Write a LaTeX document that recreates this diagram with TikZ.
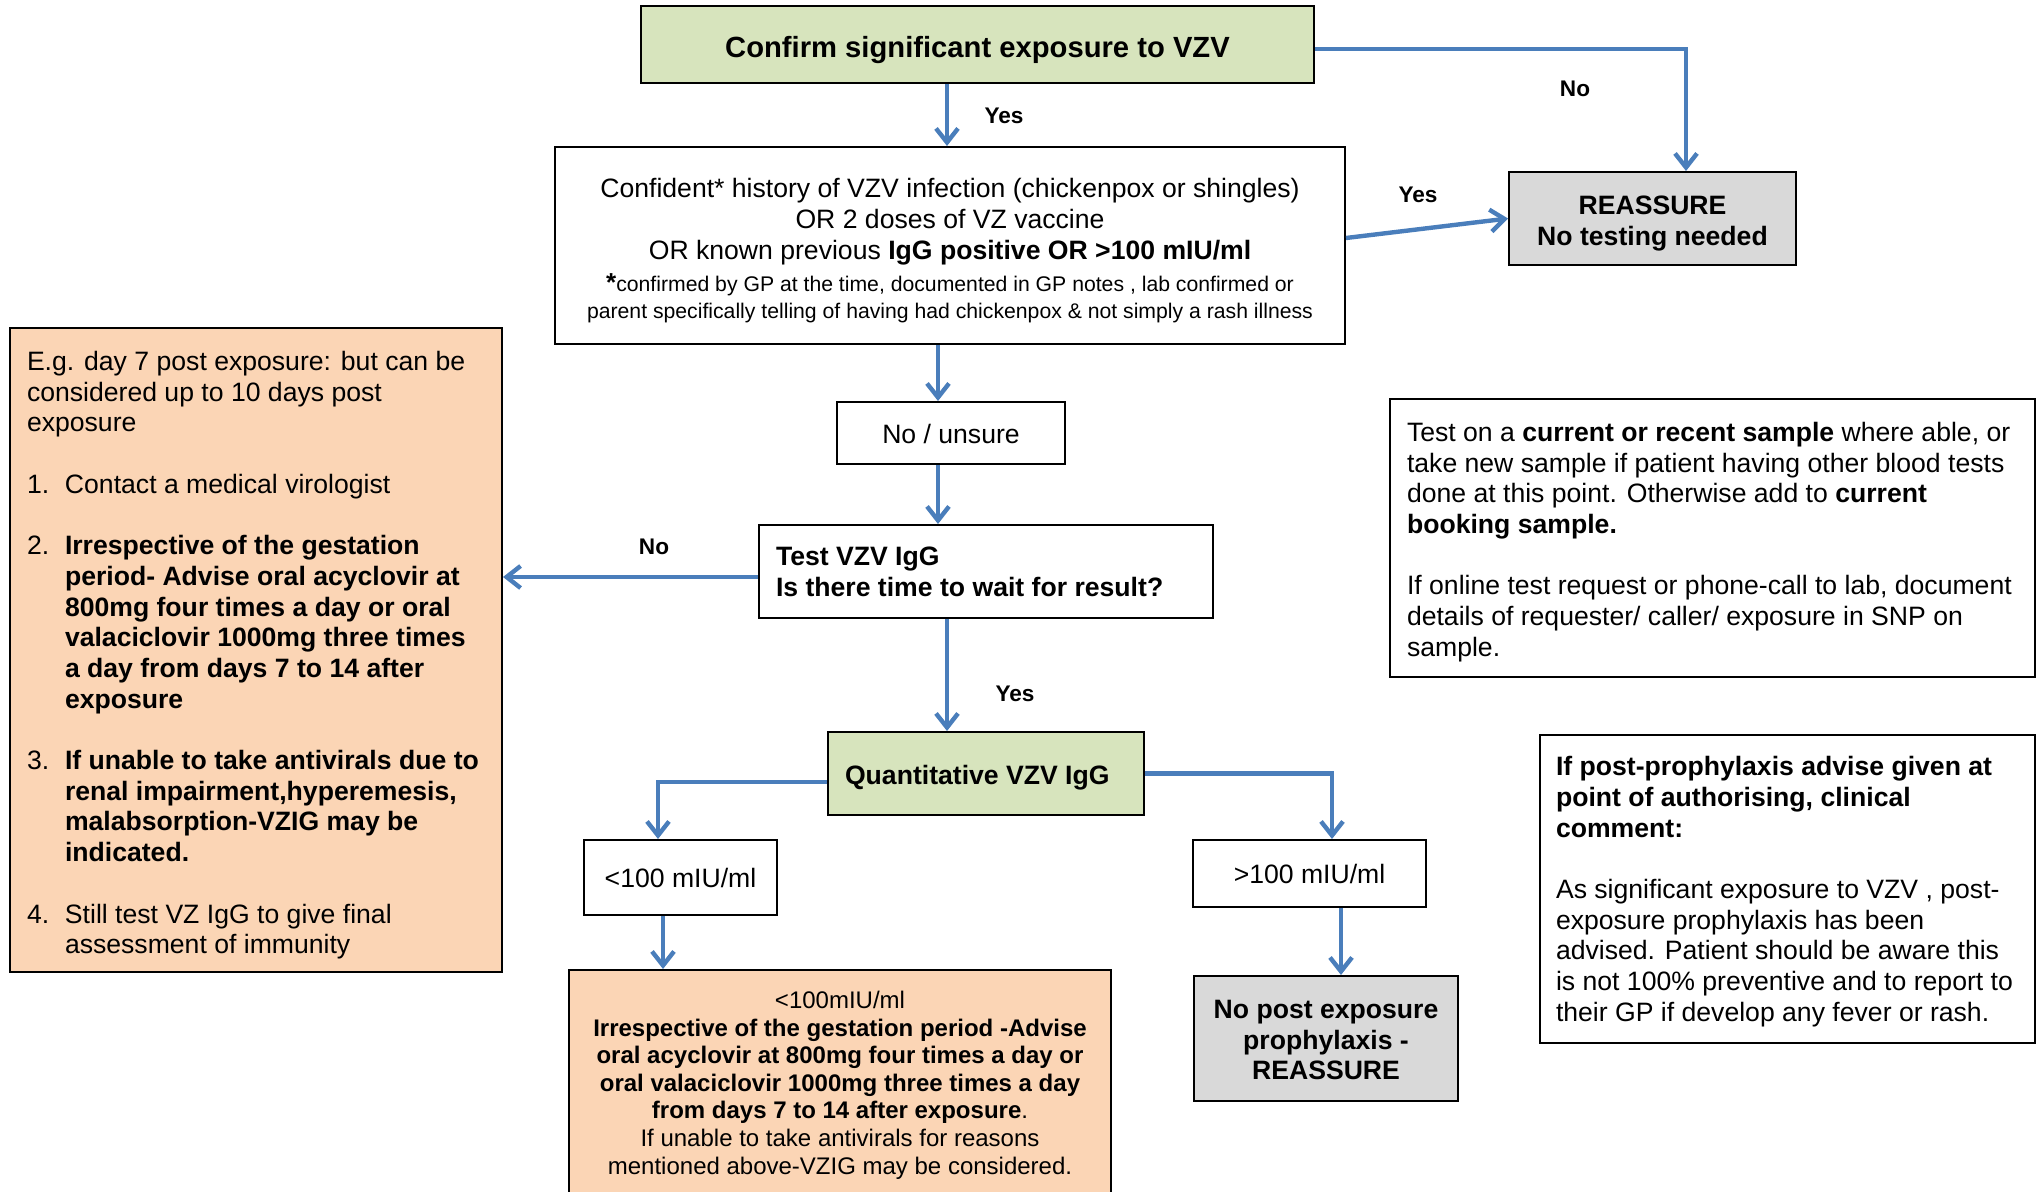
\documentclass[tikz,border=0pt]{standalone}
\usepackage{fontspec}
\setmainfont{Liberation Sans}
\usetikzlibrary{arrows.meta,calc}
\definecolor{boxgreen}{HTML}{D7E4BD}
\definecolor{boxorange}{HTML}{FBD5B5}
\definecolor{boxgray}{HTML}{D9D9D9}
\definecolor{conn}{HTML}{4A7EBB}
\newcommand\mainfs{\fontsize{13.3}{15.35}\selectfont}
\newcommand\itemlab[1]{\makebox[19pt][l]{#1}}
\newcommand\cont{\hspace*{19pt}}
\newcommand\dn[1]{\rule{0pt}{#1}}
\begin{document}
\begin{tikzpicture}[x=0.5pt,y=-0.5pt,
  box/.style={draw=black, line width=1pt, inner sep=0pt, font=\mainfs, align=center},
  arr/.style={draw=conn, line width=2.2pt, -{Straight Barb[length=7pt,width=11pt]}},
  lab/.style={font=\fontsize{11.3}{13}\selectfont\bfseries, inner sep=0pt},
]
\useasboundingbox (0,0) rectangle (2038,1192);

% ---------- nodes ----------
\node[box, fill=boxgreen, line width=1.3pt, minimum width=336.5pt, minimum height=38.5pt,
      font=\fontsize{14.6}{16}\selectfont\bfseries] (top) at (977.5,44.5)
  {\dn{15.6pt}Confirm significant exposure to VZV};

\node[box, minimum width=395pt, minimum height=98.5pt] (hist) at (950,245.5)
  {\dn{14.9pt}Confident* history of VZV infection (chickenpox or shingles)\\
   OR 2 doses of VZ vaccine\\
   OR known previous \textbf{IgG positive OR >100 mIU/ml}\\[0.8pt]
   {\fontsize{10.6}{13}\selectfont\textbf{\fontsize{13}{13}\selectfont *}confirmed by GP at the time, documented in GP notes , lab confirmed or}\\[-1.9pt]
   {\fontsize{10.6}{13}\selectfont parent specifically telling of having had chickenpox \& not simply a rash illness}};

\node[box, fill=boxgray, minimum width=143.5pt, minimum height=46.5pt,
      font=\fontsize{13.3}{15.5}\selectfont\bfseries] (reassure) at (1652.5,218.5)
  {\dn{14.7pt}REASSURE\\No testing needed};

\node[box, minimum width=114pt, minimum height=31pt] (nounsure) at (951,433)
  {\dn{11pt}No / unsure};

\node[box, minimum width=227pt, minimum height=46.5pt, align=left,
      font=\fontsize{13.3}{15.5}\selectfont\bfseries] (test) at (986,571.5)
  {\makebox[210pt][l]{Test VZV IgG}\\Is there time to wait for result?};

\node[box, fill=boxorange, minimum width=246pt, minimum height=322pt, align=left] (left) at (256,650)
  {\makebox[229pt][l]{\dn{14.9pt}E.g. day 7 post exposure: but can be}\\
   considered up to 10 days post\\
   exposure\\[15.35pt]
   \itemlab{1.}Contact a medical virologist\\[15.35pt]
   \itemlab{2.}\textbf{Irrespective of the gestation}\\
   \cont\textbf{period- Advise oral acyclovir at}\\
   \cont\textbf{800mg four times a day or oral}\\
   \cont\textbf{valaciclovir 1000mg three times}\\
   \cont\textbf{a day from days 7 to 14 after}\\
   \cont\textbf{exposure}\\[15.35pt]
   \itemlab{3.}\textbf{If unable to take antivirals due to}\\
   \cont\textbf{renal impairment,hyperemesis,}\\
   \cont\textbf{malabsorption-VZIG may be}\\
   \cont\textbf{indicated.}\\[15.35pt]
   \itemlab{4.}Still test VZ IgG to give final\\
   \cont assessment of immunity};

\node[box, fill=boxgreen, minimum width=158pt, minimum height=41.5pt, align=left,
      font=\mainfs\bfseries] (quant) at (986,773.5)
  {\makebox[141pt][l]{\dn{13.6pt}Quantitative VZV IgG}};

\node[box, minimum width=96.5pt, minimum height=37.5pt] (lt100) at (680.5,877.5)
  {<100 mIU/ml};

\node[box, minimum width=116.5pt, minimum height=33.5pt] (gt100) at (1309.5,873.5)
  {>100 mIU/ml};

\node[box, fill=boxorange, minimum width=271pt, minimum height=115pt,
      font=\fontsize{12}{13.8}\selectfont] (bottom) at (840,1085)
  {<100mIU/ml\\
   \textbf{Irrespective of the gestation period -Advise}\\
   \textbf{oral acyclovir at 800mg four times a day or}\\
   \textbf{oral valaciclovir 1000mg three times a day}\\
   \textbf{from days 7 to 14 after exposure}.\\
   If unable to take antivirals for reasons\\
   mentioned above-VZIG may be considered.};

\node[box, fill=boxgray, minimum width=132pt, minimum height=62.5pt,
      font=\fontsize{13.3}{15.25}\selectfont\bfseries] (nopost) at (1326,1038.5)
  {\dn{11pt}No post exposure\\prophylaxis -\\REASSURE};

\node[box, minimum width=322.5pt, minimum height=139pt, align=left] (rbox1) at (1712.5,538)
  {\makebox[305.5pt][l]{\dn{13.6pt}Test on a \textbf{current or recent sample} where able, or}\\
   take new sample if patient having other blood tests\\
   done at this point. Otherwise add to \textbf{current}\\
   \textbf{booking sample.}\\[15.35pt]
   If online test request or phone-call to lab, document\\
   details of requester/ caller/ exposure in SNP on\\
   sample.};

\node[box, minimum width=247.5pt, minimum height=154pt, align=left] (rbox2) at (1787.5,889)
  {\makebox[231.5pt][l]{\dn{12.3pt}\textbf{If post-prophylaxis advise given at}}\\
   \textbf{point of authorising, clinical}\\
   \textbf{comment:}\\[15.35pt]
   As significant exposure to VZV , post-\\
   exposure prophylaxis has been\\
   advised. Patient should be aware this\\
   is not 100\% preventive and to report to\\
   their GP if develop any fever or rash.};

% ---------- labels ----------
\node[lab] (l1) at (1004,116) {Yes};
\node[lab] (l2) at (1575,89) {No};
\node[lab] (l3) at (1418,195) {Yes};
\node[lab] (l4) at (654,547) {No};
\node[lab] (l5) at (1015,694) {Yes};

% ---------- connectors ----------
\coordinate (a1) at ([xshift=-15.25pt]top.south);
\draw[arr] (a1) -- (a1 |- hist.north);

\coordinate (b1) at ([yshift=-2.25pt]top.east);
\coordinate (b2) at ([xshift=16.75pt]reassure.north);
\draw[arr] (b1) -| (b2);

\coordinate (c1) at ([yshift=3.75pt]hist.east);
\draw[arr] (c1) -- (reassure.west);

\coordinate (d1) at ([xshift=-6.5pt]nounsure.north);
\draw[arr] (d1 |- hist.south) -- (d1);

\coordinate (e1) at ([xshift=-6.5pt]nounsure.south);
\draw[arr] (e1) -- (e1 |- test.north);

\coordinate (f1) at ([yshift=-2.75pt]test.west);
\draw[arr] (f1) -- (f1 -| left.east);

\coordinate (g1) at ([xshift=-19.5pt]test.south);
\draw[arr] (g1) -- (g1 |- quant.north);

\coordinate (h1) at ([yshift=-4.25pt]quant.west);
\coordinate (h2) at ([xshift=-11.25pt]lt100.north);
\draw[arr] (h1) -| (h2);

\coordinate (i1) at ([xshift=-8.75pt]lt100.south);
\draw[arr] (i1) -- (i1 |- bottom.north);

\coordinate (j1) at ([xshift=11.25pt]gt100.north);
\draw[arr] (quant.east) -| (j1);

\coordinate (k1) at ([xshift=15.75pt]gt100.south);
\draw[arr] (k1) -- (k1 |- nopost.north);
\end{tikzpicture}
\end{document}
